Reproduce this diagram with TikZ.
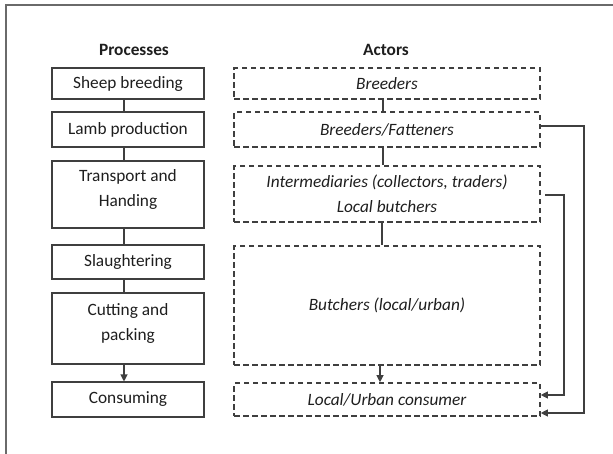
\documentclass[tikz,border=0pt]{standalone}
\usepackage{fontspec}
\setmainfont{Carlito}
\usetikzlibrary{arrows.meta}
\definecolor{linec}{HTML}{3F3F3F}
\definecolor{textc}{HTML}{1E1E1E}
\definecolor{framec}{HTML}{6A6A6A}
\begin{document}
\begin{tikzpicture}[x=1pt,y=-1pt,
  every node/.style={font=\fontsize{17.3}{25}\selectfont, text=textc, inner sep=0pt, align=center},
  procbox/.style={draw=linec, line width=1.1pt, minimum width=152pt},
  actbox/.style={draw=linec, line width=1.6pt, dash pattern=on 5.5pt off 3.5pt, minimum width=306pt, font=\fontsize{17.3}{25}\selectfont\itshape},
  head/.style={font=\fontsize{17.3}{25}\selectfont\bfseries},
  raised/.style={text depth=14pt},
  conn/.style={draw=linec, line width=1.1pt},
  arr/.style={conn, -{Triangle[length=7pt,width=7pt]}}
]
\useasboundingbox (0,0) rectangle (613,453);
\draw[framec, line width=1.6pt] (6,460) -- (6,5) -- (620,5);

\node[head] (hp) at (134,50) {Processes};
\node[head] (ha) at (386,50) {Actors};

\node[procbox, minimum height=31pt] (p1) at (128,83.5) {Sheep breeding};
\node[procbox, minimum height=35pt] (p2) at (128,129.5) {Lamb production};
\node[procbox, raised, minimum height=67pt] (p3) at (128,194.5) {Transport and\\Handing};
\node[procbox, minimum height=34pt] (p4) at (128,262) {Slaughtering};
\node[procbox, raised, minimum height=71pt] (p5) at (128,328.5) {Cutting and\\packing};
\node[procbox, minimum height=35pt] (p6) at (128,399.5) {Consuming};

\node[actbox, minimum height=31pt] (a1) at (387,83.5) {Breeders};
\node[actbox, minimum height=35pt] (a2) at (387,129.5) {Breeders/Fatteners};
\node[actbox, minimum height=56pt] (a3) at (387,194) {Intermediaries (collectors, traders)\\Local butchers};
\node[actbox, minimum height=119pt] (a4) at (387,305.5) {Butchers (local/urban)};
\node[actbox, minimum height=33pt] (a5) at (387,399.5) {Local/Urban consumer};

\draw[conn] ([xshift=-4pt]p1.south) -- ([xshift=-4pt]p2.north);
\draw[conn] ([xshift=-4pt]p2.south) -- ([xshift=-4pt]p3.north);
\draw[conn] ([xshift=-4pt]p3.south) -- ([xshift=-4pt]p4.north);
\draw[conn] ([xshift=-4pt]p4.south) -- ([xshift=-4pt]p5.north);
\draw[arr] ([xshift=-4pt]p5.south) -- ([xshift=-4pt]p6.north);

\draw[conn] ([xshift=-4pt]a1.south) -- ([xshift=-4pt]a2.north);
\draw[conn] ([xshift=-4pt]a2.south) -- ([xshift=-4pt]a3.north);
\draw[conn] ([xshift=-5pt]a3.south) -- ([xshift=-5pt]a4.north);
\draw[arr] ([xshift=-7pt]a4.south) -- ([xshift=-7pt]a5.north);

\coordinate (r1) at (584,0);
\coordinate (r2) at (564,0);
\coordinate (s1) at ([yshift=3.5pt]a2.east);
\coordinate (e1) at ([yshift=-13.5pt]a5.east);
\coordinate (s2) at ([xshift=4pt,yshift=-1pt]a3.east);
\coordinate (e2) at ([yshift=4.5pt]a5.east);
\draw[arr] (s1) -- (s1 -| r1) -- (e1 -| r1) -- (e1);
\draw[arr] (s2) -- (s2 -| r2) -- (e2 -| r2) -- (e2);
\end{tikzpicture}
\end{document}
